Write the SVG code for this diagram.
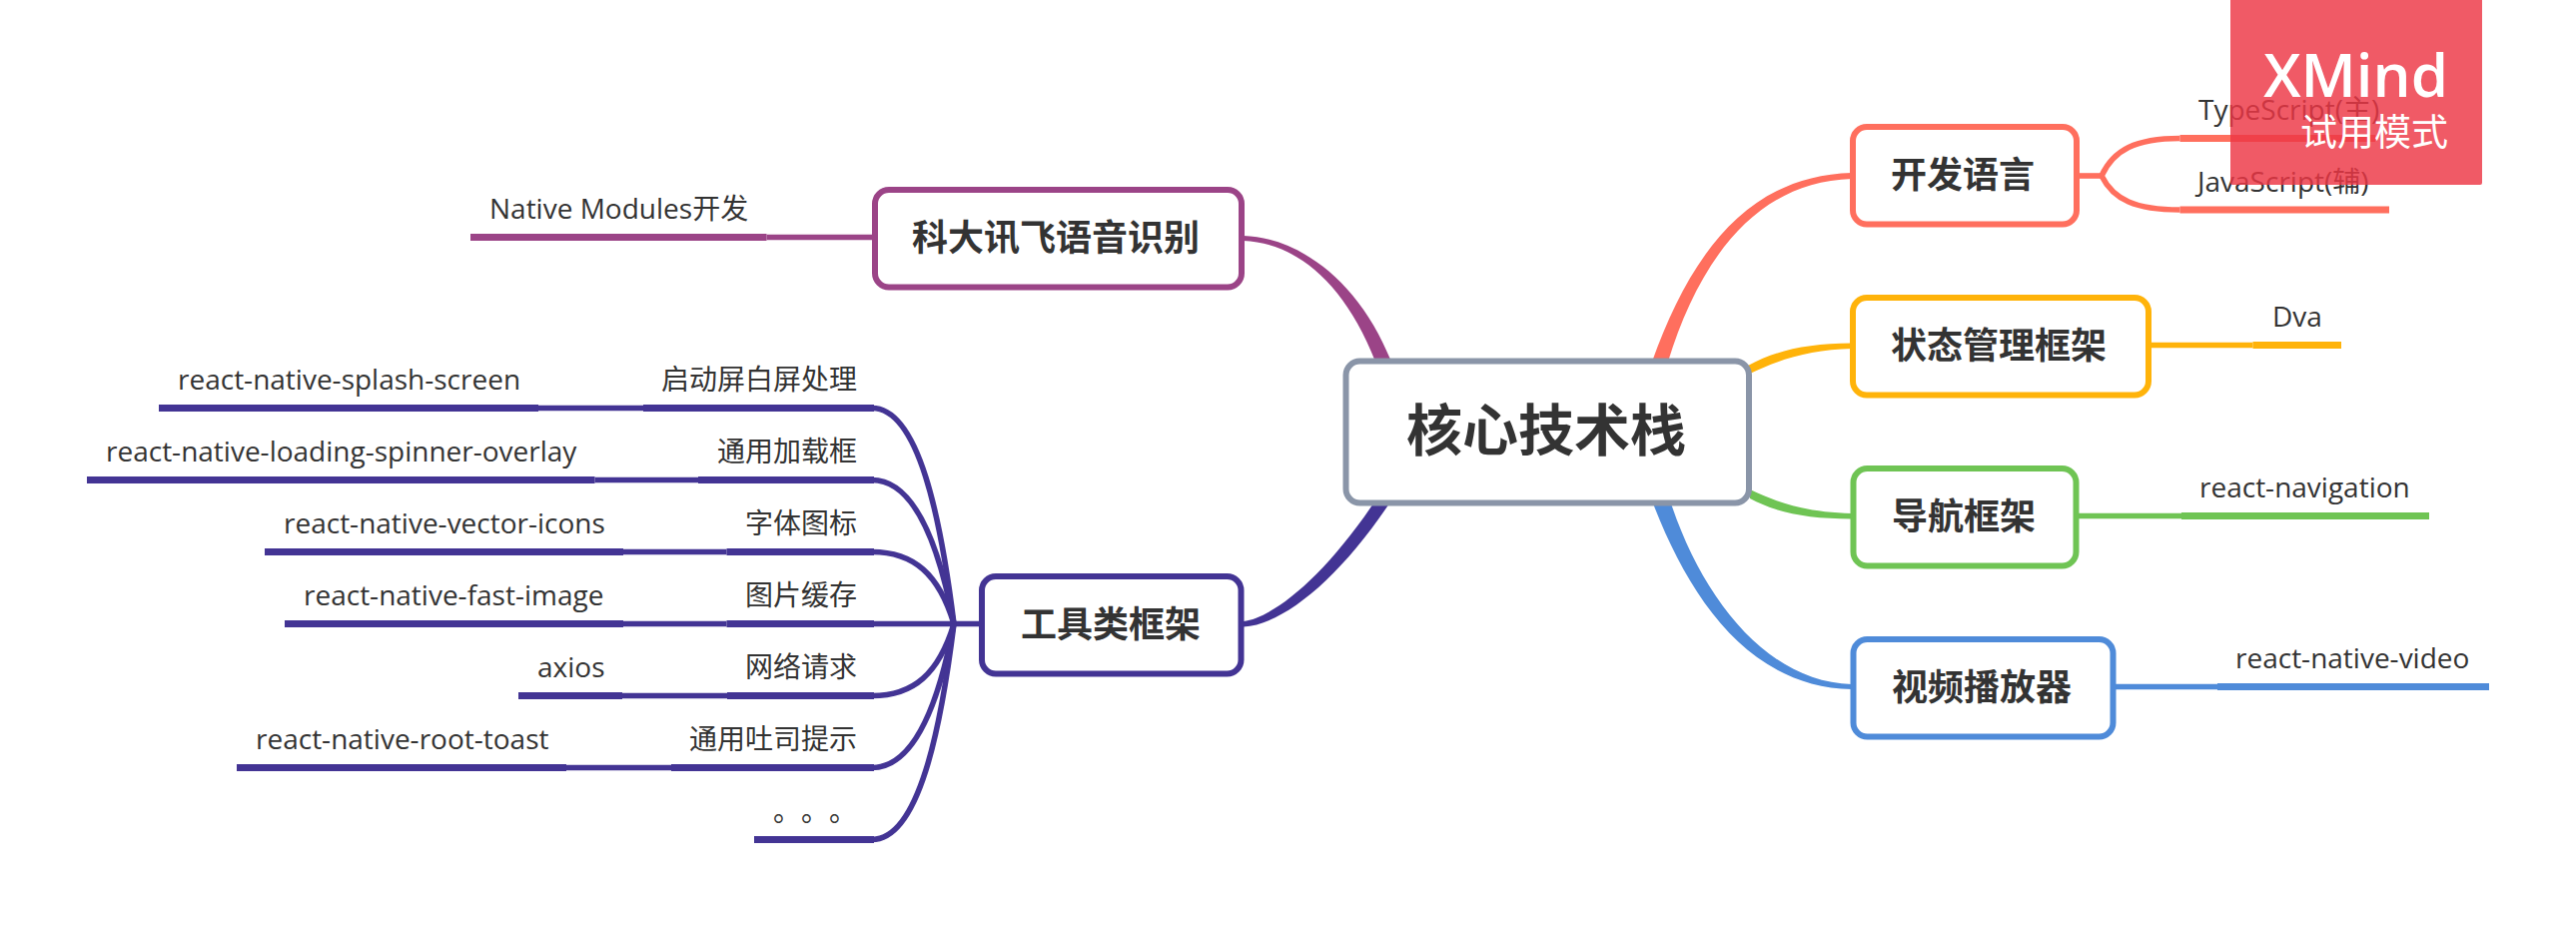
<svg xmlns="http://www.w3.org/2000/svg" width="2579" height="931" viewBox="0 0 2579 931">
<style>
text{font-family:"Open Sans","Noto Sans CJK SC","Noto Sans",sans-serif;fill:#333}
.root{font-family:"Noto Sans CJK SC",sans-serif;font-size:56px;font-weight:700;text-anchor:middle}
.main{font-family:"Noto Sans CJK SC",sans-serif;font-size:36px;font-weight:700;text-anchor:middle}
.leaf{font-size:28px}
.end{text-anchor:end}
.box{fill:#fff;stroke-width:6}
.thick{fill:none;stroke-width:7}
.thin{fill:none;stroke-width:5.6}
.curve{fill:none;stroke-width:5.6}
.r{stroke:#ff6f5e}.o{stroke:#ffb30a}.g{stroke:#6fc454}.b{stroke:#4f8bd9}.p{stroke:#9b4487}.i{stroke:#433494}
.wm{fill:#fff;font-family:"Open Sans","Noto Sans CJK SC",sans-serif}
</style>
<rect width="2579" height="931" fill="#fff"/>
<g id="connectors">
<path fill="#ff6f5e" d="M1654,362C1690,262 1745,176 1854,173L1854,179C1755,182 1700,265 1670,362Z"/>
<path fill="#ffb30a" d="M1750,366C1780,350 1810,344 1854,343.500L1854,349C1815,350 1785,358 1752,374Z"/>
<path fill="#6fc454" d="M1752,490C1785,506 1815,513 1854,514L1854,519.500C1810,519 1780,514 1752,499Z"/>
<path fill="#4f8bd9" d="M1655,504C1692,600 1752,688 1854,690L1854,685C1770,683 1705,600 1673,504Z"/>
<path fill="#433494" d="M1375,504C1325,578 1275,618 1245,622L1245,627.500C1285,625 1340,580 1391,504Z"/>
<path fill="#9b4487" d="M1393,362C1360,280 1300,238 1245,236L1245,241C1295,243 1345,280 1377,362Z"/>
<path class="thin r" d="M2079,176H2104"/>
<path class="curve r" d="M2104,176C2116,150 2138,138.500 2182.500,138.500"/>
<path class="curve r" d="M2104,176C2116,200 2138,210 2182.500,210"/>
<path class="thick r" d="M2182.500,138.500H2378"/>
<path class="thick r" d="M2182.500,210H2392"/>
<path class="thin o" d="M2151,345.500H2255.500"/><path class="thick o" d="M2255.500,345.500H2344"/>
<path class="thin g" d="M2079,516.500H2184"/><path class="thick g" d="M2184,516.500H2432"/>
<path class="thin b" d="M2116,687.500H2220"/><path class="thick b" d="M2220,687.500H2492"/>
<path class="thick p" d="M471,237.500H767.500"/><path class="thin p" d="M767.500,237.500H876"/>
<path class="thick i" d="M159,408.500H539"/><path class="thin i" d="M539,408.500H644"/><path class="thick i" d="M644,408.500H875"/>
<path class="thick i" d="M87,480.500H595.500"/><path class="thin i" d="M595.500,480.500H699"/><path class="thick i" d="M699,480.500H875"/>
<path class="thick i" d="M265,552.500H624"/><path class="thin i" d="M624,552.500H727.500"/><path class="thick i" d="M727.500,552.500H875"/>
<path class="thick i" d="M285,624.500H624"/><path class="thin i" d="M624,624.500H727.500"/><path class="thick i" d="M727.500,624.500H875"/><path class="thin i" d="M875,624.500H982"/>
<path class="thick i" d="M519,696.500H623"/><path class="thin i" d="M623,696.500H728"/><path class="thick i" d="M728,696.500H875"/>
<path class="thick i" d="M237,768.500H567"/><path class="thin i" d="M567,768.500H672"/><path class="thick i" d="M672,768.500H875"/>
<path class="thick i" d="M755,840.500H875"/>
<path class="curve i" d="M873,408.500C920,408.500 942,520 955,624.500"/>
<path class="curve i" d="M873,480.500C915,480.500 940,545 955,624.500"/>
<path class="curve i" d="M873,552.500C915,552.500 940,575 955,624.500"/>
<path class="curve i" d="M873,696.500C915,696.500 940,674 955,624.500"/>
<path class="curve i" d="M873,768.500C915,768.500 940,704 955,624.500"/>
<path class="curve i" d="M873,840.500C920,840.500 942,729 955,624.500"/>
</g>
<g id="node-root"><rect class="box" x="1347.500" y="361.500" width="403.500" height="142" rx="14" stroke="#8a95a8"/><text class="root" x="1548" y="451">核心技术栈</text></g>
<g id="node-lang"><rect class="box r" x="1855" y="127" width="224" height="97.500" rx="14"/><text class="main" x="1965" y="188">开发语言</text></g>
<g id="node-state"><rect class="box o" x="1855" y="298" width="296" height="97.500" rx="14"/><text class="main" x="2001" y="359">状态管理框架</text></g>
<g id="node-nav"><rect class="box g" x="1855.500" y="469" width="223" height="97.500" rx="14"/><text class="main" x="1966" y="530">导航框架</text></g>
<g id="node-video"><rect class="box b" x="1855.500" y="640" width="260" height="97.500" rx="14"/><text class="main" x="1984" y="701">视频播放器</text></g>
<g id="node-xunfei"><rect class="box p" x="876" y="190" width="367" height="97.500" rx="14"/><text class="main" x="1057" y="251">科大讯飞语音识别</text></g>
<g id="node-tools"><rect class="box i" x="983" y="577" width="259.500" height="97.500" rx="14"/><text class="main" x="1112" y="638">工具类框架</text></g>
<g id="leaf-ts"><text class="leaf" x="2201" y="120">TypeScript(主)</text></g>
<g id="leaf-js"><text class="leaf" x="2200" y="192">JavaScript(辅)</text></g>
<g id="leaf-dva"><text class="leaf" x="2275" y="327">Dva</text></g>
<g id="leaf-nav"><text class="leaf" x="2202" y="498">react-navigation</text></g>
<g id="leaf-video"><text class="leaf" x="2238" y="669">react-native-video</text></g>
<g id="leaf-native"><text class="leaf" x="490" y="219">Native Modules开发</text></g>
<g id="leaf-splash"><text class="leaf" x="178" y="390">react-native-splash-screen</text></g>
<g id="t-splash"><text class="leaf end" x="858" y="390">启动屏白屏处理</text></g>
<g id="leaf-spinner"><text class="leaf" x="106" y="462">react-native-loading-spinner-overlay</text></g>
<g id="t-loading"><text class="leaf end" x="858" y="462">通用加载框</text></g>
<g id="leaf-icons"><text class="leaf" x="284" y="534">react-native-vector-icons</text></g>
<g id="t-icons"><text class="leaf end" x="858" y="534">字体图标</text></g>
<g id="leaf-image"><text class="leaf" x="304" y="606">react-native-fast-image</text></g>
<g id="t-image"><text class="leaf end" x="858" y="606">图片缓存</text></g>
<g id="leaf-axios"><text class="leaf" x="538" y="678">axios</text></g>
<g id="t-net"><text class="leaf end" x="858" y="678">网络请求</text></g>
<g id="leaf-toast"><text class="leaf" x="256" y="750">react-native-root-toast</text></g>
<g id="t-toast"><text class="leaf end" x="858" y="750">通用吐司提示</text></g>
<g id="t-more"><text class="leaf" x="774 802 830" y="822">。。。</text></g>
<g id="watermark">
<rect x="2233" y="-4" width="252" height="189" rx="2" fill="#ed3644" fill-opacity=".82"/>
<text class="wm" x="2451" y="97" text-anchor="end" font-size="60" font-weight="600">XMind</text>
<text class="wm" x="2451" y="146" text-anchor="end" font-size="37">试用模式</text>
</g>
</svg>
